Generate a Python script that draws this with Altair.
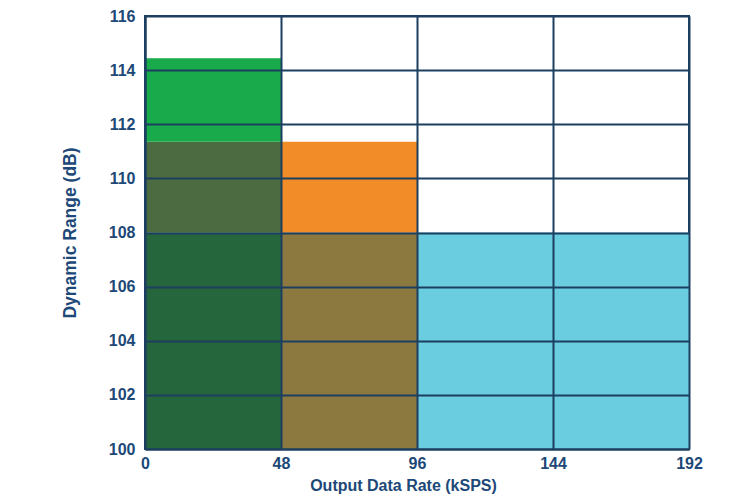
import altair as alt
import pandas as pd

# Regions of the dynamic-range vs. output-data-rate chart
x_start = [0, 0, 0, 48, 48, 96]
x_end = [48, 48, 48, 96, 96, 192]
y_low = [100, 108, 111.35, 100, 108, 100]
y_high = [108, 111.35, 114.44, 108, 111.35, 108]
colors = ["#26663c", "#4c6b40", "#19aa4b", "#8c7940", "#f28c28", "#6acde0"]

x_ticks = [0, 48, 96, 144, 192]
y_ticks = [100, 102, 104, 106, 108, 110, 112, 114, 116]

df = pd.DataFrame({"x0": x_start, "x1": x_end, "y0": y_low, "y1": y_high, "c": colors})

navy = "#1c3f60"
txt = "#1d4877"

chart = alt.Chart(df).mark_rect().encode(
    x=alt.X("x0:Q", scale=alt.Scale(domain=[0, 192], nice=False),
            axis=alt.Axis(values=x_ticks, title="Output Data Rate (kSPS)", titleFontSize=16,
                          titleFontWeight="bold", titleColor=txt, titlePadding=6,
                          titleX=258, titleAlign="center",
                          labelFontSize=16, labelFontWeight="bold", labelColor=txt,
                          labelPadding=6, ticks=False, grid=True, gridColor=navy, gridWidth=2,
                          domainColor=navy, domainWidth=2, zindex=1, labelFlush=False)),
    x2="x1:Q",
    y=alt.Y("y0:Q", scale=alt.Scale(domain=[100, 116], nice=False, zero=False),
            axis=alt.Axis(values=y_ticks, title="Dynamic Range (dB)", titleFontSize=17.5,
                          titleFontWeight="bold", titleColor=txt, titlePadding=29,
                          labelFontSize=16, labelFontWeight="bold", labelColor=txt,
                          labelPadding=10, ticks=False, grid=True, gridColor=navy, gridWidth=2,
                          domainColor=navy, domainWidth=2, zindex=1, labelFlush=False)),
    y2="y1:Q",
    color=alt.Color("c:N", scale=None),
).properties(
    width=544, height=433,
    autosize=alt.AutoSizeParams(type="none"),
    padding={"left": 137, "top": 8, "right": 45, "bottom": 45},
).configure_view(stroke=navy, strokeWidth=2).configure_axis(
    labelFont="Liberation Sans", titleFont="Liberation Sans"
)

chart.save("out.html", embed_options={"renderer": "svg", "actions": False})
